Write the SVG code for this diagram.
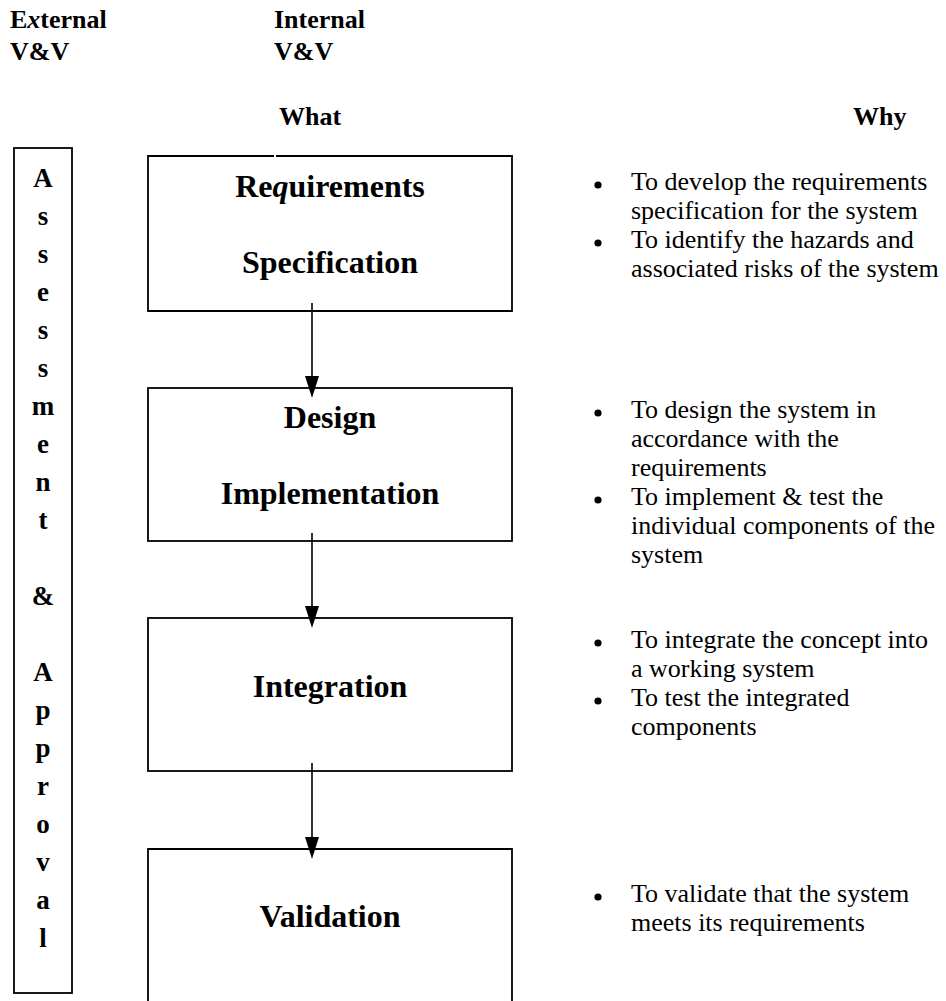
<svg xmlns="http://www.w3.org/2000/svg" width="946" height="1001" viewBox="0 0 946 1001">
  <style>
    .hd { font-family: "Liberation Serif", "Times New Roman", serif; font-weight: bold; font-size: 26px; fill: #000; }
    .col { font-family: "Liberation Serif", "Times New Roman", serif; font-weight: bold; font-size: 27px; fill: #000; text-anchor: middle; }
    .box { fill: none; stroke: #000; stroke-width: 1.8; }
    .ttl { font-family: "Liberation Serif", "Times New Roman", serif; font-weight: bold; font-size: 32px; fill: #000; text-anchor: middle; }
    .why { font-family: "Liberation Serif", "Times New Roman", serif; font-size: 26px; fill: #000; }
    .dot { fill: #000; }
    .conn { stroke: #000; stroke-width: 1.6; fill: none; }
  </style>
  <defs>
    <marker id="head" markerUnits="userSpaceOnUse" markerWidth="22" markerHeight="14" refX="14" refY="7" orient="auto">
      <path d="M0,0 L22,7 L0,14 Z" fill="#000"/>
    </marker>
  </defs>
  <rect width="946" height="1001" fill="#fff"/>

  <!-- column headings -->
  <g id="headings">
    <text class="hd" x="10" y="28">E<tspan font-style="italic">x</tspan>ternal</text>
    <text class="hd" x="10" y="60">V&amp;V</text>
    <text class="hd" x="274" y="28">Internal</text>
    <text class="hd" x="274" y="60">V&amp;V</text>
    <text class="hd" x="279" y="125">What</text>
    <text class="hd" x="853" y="125">Why</text>
  </g>

  <!-- external assessment column, letters stacked vertically -->
  <g id="assessment">
    <rect class="box" x="14" y="148" width="58" height="845"/>
    <text class="col" x="43" y="187">A</text>
    <text class="col" x="43" y="225">s</text>
    <text class="col" x="43" y="263">s</text>
    <text class="col" x="43" y="301">e</text>
    <text class="col" x="43" y="339">s</text>
    <text class="col" x="43" y="377">s</text>
    <text class="col" x="43" y="415">m</text>
    <text class="col" x="43" y="453">e</text>
    <text class="col" x="43" y="491">n</text>
    <text class="col" x="43" y="529">t</text>
    <text class="col" x="43" y="605">&amp;</text>
    <text class="col" x="43" y="681">A</text>
    <text class="col" x="43" y="719">p</text>
    <text class="col" x="43" y="757">p</text>
    <text class="col" x="43" y="795">r</text>
    <text class="col" x="43" y="833">o</text>
    <text class="col" x="43" y="871">v</text>
    <text class="col" x="43" y="909">a</text>
    <text class="col" x="43" y="947">l</text>
  </g>

  <!-- process stages -->
  <g id="requirements">
    <path class="box" d="M276,156 H512 V311 H148 V156 H274"/>
    <text class="ttl" x="330" y="197">Re<tspan font-style="italic">q</tspan>uirements</text>
    <text class="ttl" x="330" y="273">Specification</text>
  </g>
  <g id="design">
    <rect class="box" x="148" y="388" width="364" height="153"/>
    <text class="ttl" x="330" y="428">Design</text>
    <text class="ttl" x="330" y="504">Implementation</text>
  </g>
  <g id="integration">
    <rect class="box" x="148" y="618" width="364" height="153"/>
    <text class="ttl" x="330" y="697">Integration</text>
  </g>
  <g id="validation">
    <path class="box" d="M148,1003 V849 H512 V1003"/>
    <text class="ttl" x="330" y="927">Validation</text>
  </g>

  <!-- flow between stages -->
  <g id="connectors">
    <line class="conn" x1="312" y1="303" x2="312" y2="390" marker-end="url(#head)"/>
    <line class="conn" x1="312" y1="533" x2="312" y2="620" marker-end="url(#head)"/>
    <line class="conn" x1="312" y1="763" x2="312" y2="851" marker-end="url(#head)"/>
  </g>

  <!-- purpose of each stage -->
  <g id="why-requirements">
    <circle class="dot" cx="598" cy="185" r="3.6"/>
    <text class="why" x="631" y="190">To develop the requirements</text>
    <text class="why" x="631" y="219">specification for the system</text>
    <circle class="dot" cx="598" cy="243" r="3.6"/>
    <text class="why" x="631" y="248">To identify the hazards and</text>
    <text class="why" x="631" y="277">associated risks of the system</text>
  </g>
  <g id="why-design">
    <circle class="dot" cx="598" cy="413" r="3.6"/>
    <text class="why" x="631" y="418">To design the system in</text>
    <text class="why" x="631" y="447">accordance with the</text>
    <text class="why" x="631" y="476">requirements</text>
    <circle class="dot" cx="598" cy="500" r="3.6"/>
    <text class="why" x="631" y="505">To implement &amp; test the</text>
    <text class="why" x="631" y="534">individual components of the</text>
    <text class="why" x="631" y="563">system</text>
  </g>
  <g id="why-integration">
    <circle class="dot" cx="598" cy="643" r="3.6"/>
    <text class="why" x="631" y="648">To integrate the concept into</text>
    <text class="why" x="631" y="677">a working system</text>
    <circle class="dot" cx="598" cy="701" r="3.6"/>
    <text class="why" x="631" y="706">To test the integrated</text>
    <text class="why" x="631" y="735">components</text>
  </g>
  <g id="why-validation">
    <circle class="dot" cx="598" cy="897" r="3.6"/>
    <text class="why" x="631" y="902">To validate that the system</text>
    <text class="why" x="631" y="931">meets its requirements</text>
  </g>
</svg>
